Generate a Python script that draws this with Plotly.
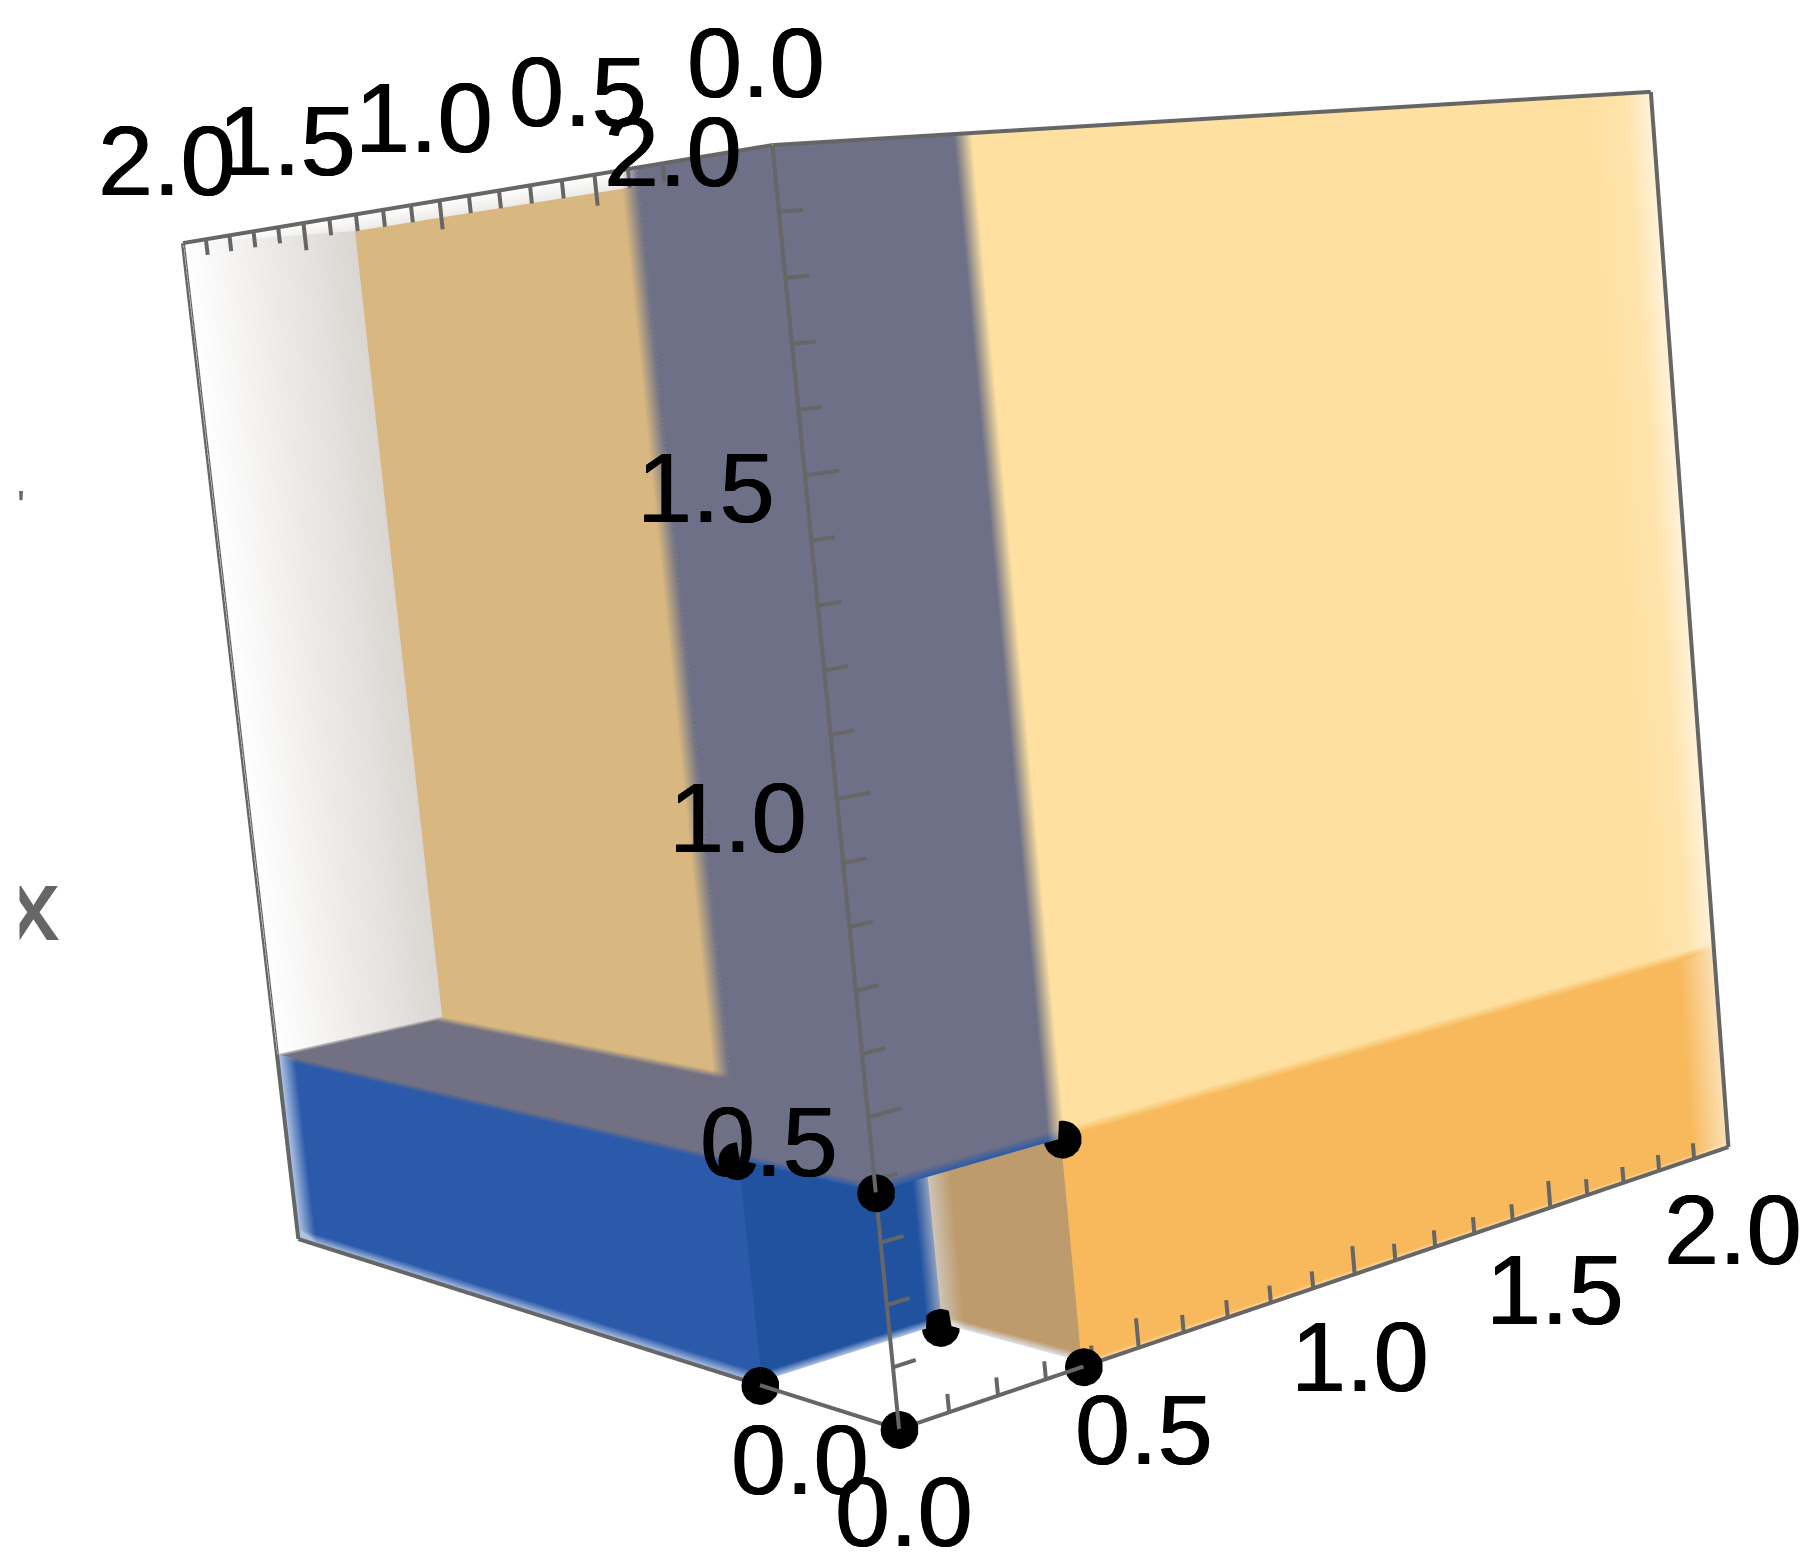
#!/usr/bin/env python3
import numpy as np
import plotly.graph_objects as go

# axis values, x runs to the right, y to the left, z up
AXIS_MAX = 2.0
TICK_VALUES = [0.0, 0.5, 1.0, 1.5, 2.0]
TICK_LABELS = ["0.0", "0.5", "1.0", "1.5", "2.0"]
MINOR_TICKS = [0.1, 0.2, 0.3, 0.4, 0.6, 0.7, 0.8, 0.9, 1.1, 1.2, 1.3, 1.4, 1.6, 1.7, 1.8, 1.9]

# size of the empty corner cube, and the black points on its vertices
CORNER = 0.38
POINT_X = [0, CORNER, 0, CORNER, 0, CORNER, 0, CORNER]
POINT_Y = [0, 0, CORNER, CORNER, 0, 0, CORNER, CORNER]
POINT_Z = [0, 0, 0, 0, CORNER, CORNER, CORNER, CORNER]

# camera
EYE = dict(x=-2.0669, y=-2.6248, z=0.3649)
CENTER = dict(x=-0.0566, y=0.0633, z=0.0244)
UP = dict(x=0.0419, y=-0.0636, z=0.739)
ASPECT = dict(x=1, y=0.9766, z=0.9908)

# the scene has to be taller than the window for this lens, the page is shifted to fit
FIG_W, FIG_H = 1906, 2908
SHIFT_X, SHIFT_Y = 96, 783

YELLOW = "#FEE0A0"
YELLOW_SIDE = "#FEE4AC"
YELLOW_EDGE = "#FFF2D8"
ORANGE = "#F7B95B"
ORANGE_EDGE = "#FBE0B5"
SLATE = "#6D7086"
SLATE_CLEAR = "rgba(109,112,134,0)"
GRAY = "#717183"
TAN = "#D8B880"
BLUE = "#2B5AAA"
BLUE_EDGE = "#AEC3E2"
BLUE_DARK = "#2152A0"
BROWN = "#BE9B6C"
WHITE = "#FFFFFF"
LINE = "#666666"

a = CORNER
soft = 0.018
near = 0.004  # keep the panels just behind the tick lines
far = AXIS_MAX - 0.001
inner = a + 0.015  # walls of the empty corner, just behind its points
start = near + 0.002  # and they must not poke through the front faces


def panel(axis, level, us, vs, colors):
    uu, vv = np.meshgrid(us, vs)
    uu, vv = uu.ravel(), vv.ravel()
    flat = np.full(uu.shape, level, dtype=float)
    xyz = {"x": (flat, uu, vv), "y": (uu, flat, vv), "z": (uu, vv, flat)}[axis]
    n = len(us)
    i, j, k = [], [], []
    for r in range(len(vs) - 1):
        for c in range(n - 1):
            p = r * n + c
            i += [p, p]
            j += [p + 1, p + n + 1]
            k += [p + n + 1, p + n]
    return go.Mesh3d(
        x=xyz[0], y=xyz[1], z=xyz[2], i=i, j=j, k=k,
        vertexcolor=[col for row in colors for col in row],
        flatshading=False, hoverinfo="skip", showscale=False,
        lighting=dict(ambient=1, diffuse=0, specular=0, roughness=1, fresnel=0),
    )


fig = go.Figure()

# right face
fig.add_trace(panel("y", near, [0, a - 1.5 * soft, a + 0.5 * soft, 1.82, 1.93, 2], [a, a + 0.016, 2], [
    [BLUE, BLUE, ORANGE, ORANGE, ORANGE, ORANGE_EDGE],
    [SLATE, SLATE, YELLOW, YELLOW, YELLOW_SIDE, YELLOW_EDGE],
    [SLATE, SLATE, YELLOW, YELLOW, YELLOW_SIDE, YELLOW_EDGE],
]))
fig.add_trace(panel("y", near, [a, 1.9, 2], [0, 0.008, a], [
    [ORANGE_EDGE, ORANGE_EDGE, ORANGE_EDGE],
    [ORANGE, ORANGE, ORANGE_EDGE],
    [ORANGE, ORANGE, ORANGE_EDGE],
]))
# left face
fig.add_trace(panel("x", near, [0, a], [a, a + 0.012, 2], [
    [BLUE, BLUE], [SLATE, SLATE], [SLATE, SLATE],
]))
fig.add_trace(panel("x", near, [a, a + 0.05], [a, 2], [
    [SLATE, SLATE_CLEAR], [SLATE, SLATE_CLEAR],
]))
fig.add_trace(panel("x", near, [a, 1.93, 2], [0, 0.02, a - 0.012, a], [
    [BLUE_EDGE, BLUE_EDGE, BLUE_EDGE],
    [BLUE, BLUE, BLUE_EDGE],
    [BLUE, BLUE, BLUE_EDGE],
    [GRAY, GRAY, BLUE_EDGE],
]))
# seen through the left face
fig.add_trace(panel("z", a, [0, a - 0.035, a], [a, 1.97, 2], [
    [GRAY, GRAY, TAN], [GRAY, GRAY, TAN], ["#CFCAC6", "#CFCAC6", "#CFCAC6"],
]))
fig.add_trace(panel("y", far, [0, a], [a, 2], [
    [WHITE, "#DAD6D2"], [WHITE, "#DAD6D2"],
]))
fig.add_trace(panel("x", a, [a, 2], [a, 2], [[TAN, TAN], [TAN, TAN]]))
fig.add_trace(panel("z", far, [0, a], [a, 2], [
    [WHITE, "#EDEAE6"], [WHITE, "#EDEAE6"],
]))
# inside of the empty corner
fig.add_trace(panel("y", inner, [start, a - soft, inner], [0, 0.015, inner], [
    ["#B5C8E4", "#B5C8E4", "#D5DEEC"], [BLUE_DARK, BLUE_DARK, "#8FA0BE"], [BLUE_DARK, BLUE_DARK, "#8FA0BE"],
]))
fig.add_trace(panel("x", inner, [start, a - 0.05, inner], [0, 0.015, inner], [
    ["#DDE3EC", "#DDE3EC", "#DDE3EC"], [BROWN, BROWN, "#CFC5B8"], [BROWN, BROWN, "#CFC5B8"],
]))

# box edges and tick marks
lx, ly, lz = [], [], []


def seg(p, q):
    lx.extend([p[0], q[0], None])
    ly.extend([p[1], q[1], None])
    lz.extend([p[2], q[2], None])


m = AXIS_MAX
seg((0, 0, 0), (m, 0, 0))
seg((0, 0, 0), (0, m, 0))
seg((0, 0, 0), (0, 0, m))
seg((0, 0, m), (m, 0, m))
seg((0, 0, m), (0, m, m))
seg((m, 0, 0), (m, 0, m))
seg((0, m, 0), (0, m, m))
seg((0, m, m), (a, m, m))
for v in TICK_VALUES + MINOR_TICKS:
    major = v in TICK_VALUES
    seg((v, 0, 0), (v, 0, 0.05 if major else 0.03))
    seg((0, v, m), (0, v, m - (0.05 if major else 0.03)))
    seg((0, 0, v), (0.065 if major else 0.045, 0, v))
fig.add_trace(go.Scatter3d(x=lx, y=ly, z=lz, mode="lines", line=dict(color=LINE, width=8), hoverinfo="skip"))

fig.add_trace(go.Scatter3d(
    x=POINT_X, y=POINT_Y, z=POINT_Z, mode="markers",
    marker=dict(size=22, color="black", line=dict(width=0)), hoverinfo="skip",
))

label_font = dict(family="Liberation Sans", size=99, color="black",
                  shadow="0.6px 0 0 black, -0.6px 0 0 black")
notes = []
for v, t in zip(TICK_VALUES, TICK_LABELS):
    notes.append(dict(x=v, y=0, z=0, text=t, showarrow=False, font=label_font, xshift=5, yshift=-82))
    notes.append(dict(x=0, y=v, z=m, text=t, showarrow=False, font=label_font, xshift=-16, yshift=83))
    notes.append(dict(x=0, y=0, z=v, text=t, showarrow=False, font=label_font, xshift=-99, yshift=-(30 - 12 * v)))


def paper_x(px):
    return (px + SHIFT_X) / FIG_W


def paper_y(py):
    return 1 - (py + SHIFT_Y) / FIG_H


def page_note(px, py, text, **kw):
    return dict(x=paper_x(px), y=paper_y(py), xref="paper", yref="paper", xanchor="center", yanchor="middle",
                text=text, showarrow=False, **kw)


axis = dict(range=[0, AXIS_MAX], visible=False)
fig.update_layout(
    width=FIG_W, height=FIG_H, margin=dict(l=0, r=0, t=0, b=0), showlegend=False,
    paper_bgcolor="white",
    annotations=[
        page_note(33, 905, "x", font=dict(family="Liberation Sans", size=102, color=LINE,
                                          shadow="1px 0 0 #666666, -1px 0 0 #666666")),
        page_note(21, 505, "'", font=dict(family="Liberation Sans", size=42, color=LINE)),
        page_note(9, 912, " ", width=18, height=110, bgcolor="white"),
    ],
    scene=dict(
        domain=dict(x=[0, 1], y=[0, 1]), xaxis=axis, yaxis=axis, zaxis=axis, dragmode="orbit",
        bgcolor="white", aspectmode="manual", aspectratio=ASPECT,
        camera=dict(eye=EYE, center=CENTER, up=UP),
        annotations=notes,
    ),
)
fig.write_html("out.html", post_script=(
    "document.documentElement.style.overflow='hidden';"
    "document.body.style.overflow='hidden';"
    "document.body.style.margin='0';"
    "var gd=document.querySelector('.plotly-graph-div');"
    f"gd.style.marginLeft='-{SHIFT_X}px';gd.style.marginTop='-{SHIFT_Y}px';"
))
